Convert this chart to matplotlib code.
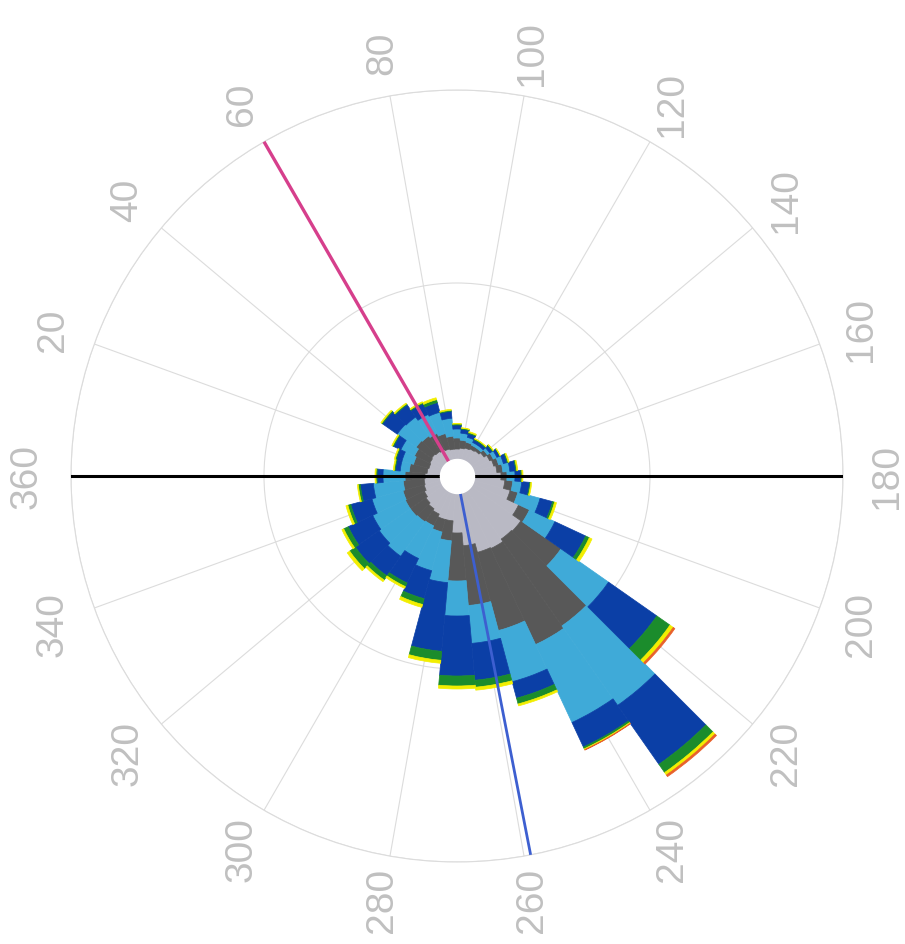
import numpy as np
import matplotlib
matplotlib.use("Agg")
import matplotlib.pyplot as plt

# wind directions (sector centres, degrees)
directions = [0, 10, 20, 30, 40, 50, 60, 70, 80, 90, 100, 110,
              120, 130, 140, 150, 160, 170, 180, 190, 200, 210, 220, 230,
              240, 250, 260, 270, 280, 290, 300, 310, 320, 330, 340, 350]

# counts per speed class (innermost -> outermost)
c1 = [15, 13, 12, 13, 14, 13, 12, 11, 10, 10, 11, 12,
      13, 14, 16, 19, 21, 23, 27, 31, 38, 51, 61, 60,
      63, 62, 53, 40, 28, 28, 25, 23, 21, 19, 17, 16]
c2 = [20, 18, 16, 17, 19, 19, 18, 16, 13, 11, 8, 6,
      4, 3, 4, 4, 5, 6, 6, 8, 8, 12, 49, 106,
      106, 81, 60, 48, 20, 13, 13, 16, 19, 21, 22, 21]
c3 = [22, 9, 12, 15, 23, 23, 21, 22, 18, 9, 7, 5,
      3, 3, 3, 4, 5, 7, 8, 9, 23, 28, 58, 97,
      86, 53, 38, 35, 42, 40, 36, 42, 38, 36, 32, 30]
c4 = [6, 5, 6, 8, 18, 15, 12, 10, 7, 4, 4, 4,
      3, 3, 3, 3, 4, 6, 6, 8, 13, 34, 59, 72,
      27, 17, 37, 60, 69, 29, 27, 24, 29, 27, 22, 13]
c5 = [1, 1, 1, 1, 1, 1, 1, 3, 1, 1, 1, 1,
      1, 1, 1, 0.5, 1, 1, 1, 1, 2, 4, 16, 10,
      2, 6, 7, 10, 9, 6, 4, 5, 7, 5, 3, 2]
c6 = [1, 1, 1, 1, 1, 1, 1, 2, 1, 0.5, 0.5, 1,
      0.5, 0.5, 0.5, 0.5, 1, 1, 1, 1, 2, 3, 4, 3,
      1, 2, 3, 3, 3, 3, 2, 2, 3, 2, 2, 1]
c7 = [0, 0, 0, 0, 0, 0, 0, 0, 0, 0, 0, 0,
      0, 0, 0, 0, 0, 0, 0, 0, 0, 0, 2, 2,
      0.5, 0, 0, 0, 0, 0, 0, 0, 0, 0, 0, 0]
classes = [c1, c2, c3, c4, c5, c6, c7]
colors = ['#b9b9c4', '#585858', '#3faad8', '#0b3fa6', '#1b8c2c', '#f2ee00', '#e8602a']

calm = 17        # radius of the empty centre
r_max = 386      # outer ring
mean_dir = 60    # pink line
peak_dir = 259   # blue line

label_angles = [0, 20, 40, 60, 80, 100, 120, 140, 160, 180,
                200, 220, 240, 260, 280, 300, 320, 340]
label_text = ['360', '20', '40', '60', '80', '100', '120', '140', '160', '180',
              '200', '220', '240', '260', '280', '300', '320', '340']

fig = plt.figure(figsize=(9.05, 9.45), dpi=100)
ax = fig.add_axes([71 / 905, 82 / 945, 772 / 905, 772 / 945], projection='polar')
ax.set_theta_zero_location('W')
ax.set_theta_direction(-1)
ax.set_ylim(0, r_max)
ax.set_thetagrids(label_angles, labels=[])
ax.set_rgrids([r_max / 2, r_max], labels=[])
ax.grid(color='#dcdcdc', linewidth=0.8)
ax.spines['polar'].set_color('#dcdcdc')
ax.spines['polar'].set_linewidth(0.8)
ax.set_axisbelow(True)

theta = np.deg2rad(directions)
width = np.deg2rad(10)
bottom = np.full(len(directions), float(calm))
for vals, col in zip(classes, colors):
    vals = np.array(vals, dtype=float)
    m = vals > 0
    ax.bar(theta[m], vals[m], width=width, bottom=bottom[m], color=col,
           edgecolor=col, linewidth=0.5, align='center', zorder=2)
    bottom = bottom + vals

# reference lines
ax.plot([0, 0], [0, r_max], color='black', lw=2.2, zorder=4)
ax.plot([np.pi, np.pi], [0, r_max], color='black', lw=2.2, zorder=4)
ax.plot([np.deg2rad(mean_dir)] * 2, [0, r_max], color='#d63f8c', lw=2.4, zorder=4)
ax.plot([np.deg2rad(peak_dir)] * 2, [0, r_max], color='#3d5fd0', lw=2.0, zorder=4)

# empty centre
ring = np.linspace(0, 2 * np.pi, 200)
ax.fill_between(ring, 0, calm, color='white', zorder=5)

for a, t in zip(label_angles, label_text):
    ax.text(np.deg2rad(a), 430, t, rotation=90, ha='center', va='center',
            fontsize=28, color='#c0c0c0', family=['Liberation Sans Narrow', 'Liberation Sans'],
            clip_on=False)

fig.savefig('out.png', dpi=100)
